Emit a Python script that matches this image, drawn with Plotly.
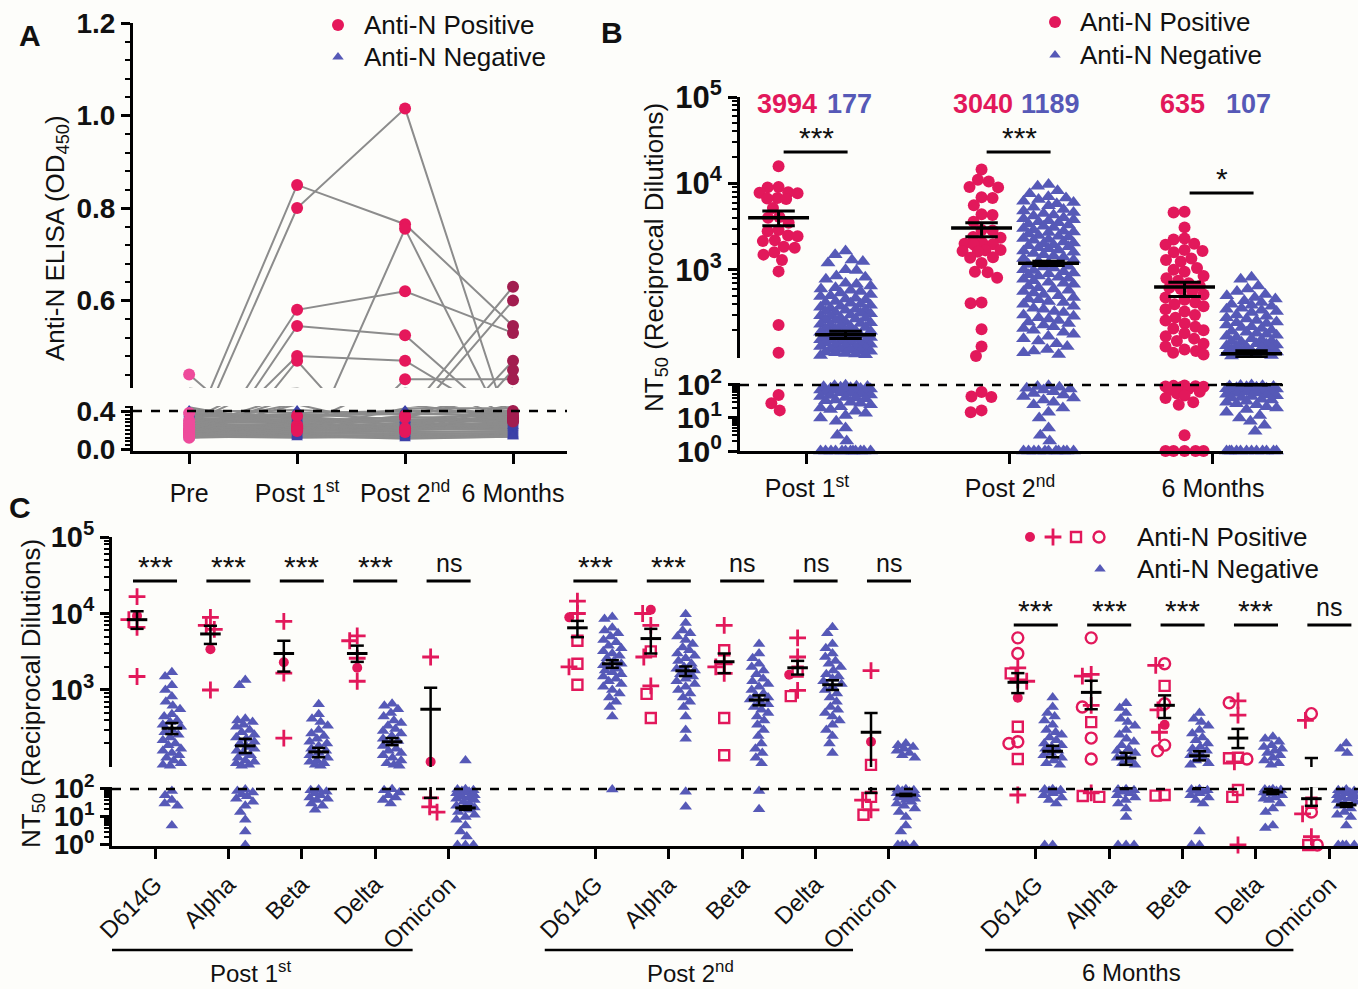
import math
import plotly.graph_objects as go

W, H = 1358, 989
FONT = "Liberation Sans, Arial, Helvetica, sans-serif"
BG = "#FDFDFA"
INK = "#111111"
RED = "#E2185B"
BLUE = "#5659B7"
GRAY = "#8C8C8C"
A_COLORS = ["#EE4B9B", "#E5175B", "#E5175B", "#A21D4F"]
A_TRI = "#3C41A8"

# ---------------- data: panel A (anti-N ELISA, OD450) ----------------
a_times = ["Pre", "Post 1<sup>st</sup>", "Post 2<sup>nd</sup>", "6 Months"]
a_pos_pre = [0.30, 0.27, 0.22, 0.20, 0.25, 0.18, 0.15, 0.44, 0.20, 0.16, 0.18, 0.14, 0.38, 0.12]
a_pos_post1 = [0.85, 0.80, 0.58, 0.545, 0.48, 0.47, 0.23, 0.24, 0.22, 0.20, 0.25, 0.21, 0.35, 0.19]
a_pos_post2 = [0.765, 1.015, 0.62, 0.525, 0.47, 0.21, 0.755, 0.35, 0.33, 0.43, 0.22, 0.19, 0.18, 0.20]
a_pos_6m = [0.545, 0.30, 0.53, 0.32, 0.33, 0.35, 0.29, 0.63, 0.60, 0.43, 0.47, 0.45, 0.40, 0.38]
a_neg_pre = [0.41, 0.39, 0.37, 0.36, 0.35, 0.34, 0.33, 0.32, 0.31, 0.30, 0.29, 0.28, 0.27, 0.26, 0.25,
             0.24, 0.23, 0.22, 0.21, 0.20, 0.19, 0.18, 0.17, 0.16, 0.15, 0.14, 0.13, 0.12, 0.38, 0.26]
a_neg_post1 = [0.38, 0.41, 0.33, 0.30, 0.37, 0.36, 0.29, 0.34, 0.28, 0.32, 0.27, 0.31, 0.25, 0.24, 0.26,
               0.22, 0.21, 0.23, 0.19, 0.20, 0.17, 0.18, 0.16, 0.15, 0.14, 0.13, 0.12, 0.14, 0.35, 0.22]
a_neg_post2 = [0.40, 0.36, 0.41, 0.33, 0.31, 0.38, 0.30, 0.28, 0.34, 0.29, 0.30, 0.26, 0.27, 0.25, 0.23,
               0.24, 0.20, 0.21, 0.22, 0.18, 0.19, 0.16, 0.17, 0.14, 0.15, 0.12, 0.13, 0.11, 0.37, 0.25]
a_neg_6m = [0.39, 0.41, 0.37, 0.35, 0.33, 0.34, 0.32, 0.31, 0.29, 0.30, 0.28, 0.27, 0.26, 0.25, 0.24,
            0.22, 0.23, 0.21, 0.20, 0.19, 0.18, 0.17, 0.16, 0.15, 0.14, 0.13, 0.14, 0.13, 0.36, 0.24]
a_cutoff = 0.4

# ---------------- data: panel B (NT50, zeros shown at 1) ----------------
b_times = ["Post 1<sup>st</sup>", "Post 2<sup>nd</sup>", "6 Months"]
b_pos_post1 = [15800, 9100, 9000, 7900, 7800, 7700, 6800, 6700, 6600, 5200, 4100, 4000, 3500, 2900, 2800,
               2500, 2450, 2200, 2150, 1850, 1800, 1600, 1500, 1300, 960, 230, 110, 50, 28, 17]
b_neg_post1 = [1650, 1500, 1250, 1300, 1200, 1000, 980, 850, 820, 780, 700, 680, 650, 620, 600, 580, 560,
               540, 520, 500, 490, 470, 460, 450, 430, 420, 410, 400, 390, 380, 370, 360, 350, 345, 340,
               330, 320, 315, 310, 300, 295, 290, 280, 275, 270, 265, 260, 250, 245, 240, 235, 230, 225,
               220, 215, 210, 205, 200, 198, 195, 190, 185, 180, 178, 175, 170, 168, 165, 160, 158, 155,
               152, 150, 148, 145, 142, 140, 138, 135, 132, 130, 128, 125, 122, 120, 118, 116, 114, 112,
               110, 108, 106, 104, 102,
               98, 95, 92, 90, 88, 85, 82, 80, 78, 75, 72, 70, 68, 65, 62, 60, 58, 55, 52, 50, 48, 45, 42,
               40, 38, 35, 33, 30, 28, 25, 22, 20, 18, 16, 14, 12, 10, 8, 5, 3, 2,
               1, 1, 1, 1, 1, 1, 1, 1, 1, 1, 1, 1]
b_pos_post2 = [14500, 11000, 10500, 9100, 9000, 6900, 6800, 5600, 4400, 4300, 3600, 2900, 2850, 2400, 2350,
               2050, 2000, 1980, 1950, 1700, 1680, 1650, 1620, 1400, 1380, 1200, 950, 940, 810, 420, 410,
               205, 130, 101, 61, 45, 43, 17, 15]
b_neg_post2 = [9700, 9300, 8200, 7600, 7000, 6800, 6500, 6200, 6000, 5800, 5500, 5300, 5000, 4800, 4600,
               4500, 4300, 4200, 4000, 3900, 3800, 3700, 3600, 3500, 3400, 3300, 3200, 3100, 3000, 2900,
               2800, 2750, 2700, 2600, 2500, 2450, 2400, 2300, 2250, 2200, 2100, 2050, 2000, 1950, 1900,
               1850, 1800, 1750, 1700, 1650, 1600, 1550, 1500, 1450, 1400, 1350, 1300, 1250, 1200, 1180,
               1150, 1100, 1080, 1050, 1000, 980, 950, 920, 900, 880, 850, 820, 800, 780, 750, 720, 700,
               680, 650, 620, 600, 580, 560, 540, 520, 500, 480, 460, 450, 430, 420, 400, 380, 360, 350,
               330, 320, 300, 290, 280, 270, 260, 250, 240, 230, 220, 210, 200, 190, 180, 170, 160, 150,
               140, 130, 120, 115, 110, 105,
               95, 90, 85, 80, 75, 70, 62, 55, 50, 45, 40, 35, 30, 25, 20, 15, 10, 5, 3, 2,
               1, 1, 1, 1, 1, 1, 1, 1, 1, 1, 1]
b_pos_6m = [4700, 4600, 3100, 2300, 2250, 2000, 1950, 1700, 1650, 1600, 1350, 1300, 1250, 1050, 1000, 950,
            850, 800, 750, 700, 650, 620, 600, 560, 520, 480, 450, 420, 400, 380, 350, 330, 300, 280, 260,
            240, 220, 210, 200, 185, 170, 160, 150, 140, 130, 120, 115, 110, 105,
            96, 94, 92, 90, 88, 85, 75, 70, 62, 55, 48, 40, 30, 25, 3, 1, 1, 1, 1, 1]
b_neg_6m = [820, 780, 650, 600, 560, 520, 500, 480, 460, 440, 420, 400, 390, 380, 360, 350, 340, 330, 320,
            300, 290, 280, 270, 260, 250, 245, 240, 230, 220, 215, 210, 200, 195, 190, 185, 180, 175, 170,
            165, 160, 155, 150, 148, 145, 140, 138, 135, 132, 130, 128, 125, 122, 120, 118, 116, 114, 112,
            110, 108, 106, 104, 102, 101,
            99, 97, 95, 93, 90, 88, 85, 82, 80, 77, 75, 72, 70, 67, 65, 62, 60, 57, 55, 52, 50, 47, 45, 42,
            40, 37, 35, 32, 30, 27, 25, 22, 20, 18, 15, 12, 10, 8, 6, 4,
            1, 1, 1, 1, 1, 1, 1, 1, 1, 1, 1, 1]
b_pos_mean = [3994, 3040, 635]
b_pos_hi = [4800, 3500, 720]
b_pos_lo = [3240, 2420, 490]
b_neg_mean = [177, 1189, 107]
b_neg_hi = [195, 1260, 116]
b_neg_lo = [161, 1120, 99]
b_sig = ["***", "***", "*"]
lod = 100

# ---------------- data: panel C (NT50 per variant) ----------------
c_times = ["Post 1<sup>st</sup>", "Post 2<sup>nd</sup>", "6 Months"]
c_variants = ["D614G", "Alpha", "Beta", "Delta", "Omicron"]
c_neg = [
    [1700, 1500, 1150, 1000, 820, 700, 620, 560, 480, 450, 400, 380, 350, 330, 300, 280, 260, 240, 220, 200,
     190, 170, 160, 150, 140, 130, 120, 110, 105, 102, 85, 60, 40, 30, 25, 5],
    [1350, 1150, 420, 400, 380, 350, 330, 300, 280, 260, 240, 230, 210, 200, 180, 170, 160, 150, 140, 130,
     120, 115, 110, 105, 102, 95, 85, 75, 65, 55, 45, 35, 25, 15, 8, 3, 1],
    [650, 480, 420, 380, 340, 300, 270, 250, 230, 210, 200, 185, 170, 160, 150, 140, 130, 120, 115, 110,
     105, 102, 95, 90, 80, 70, 60, 50, 45, 40, 30, 25, 18],
    [660, 620, 560, 500, 450, 400, 370, 340, 310, 290, 270, 250, 230, 215, 200, 185, 170, 160, 150, 140,
     130, 120, 110, 105, 102, 98, 90, 75, 60, 50, 40, 30],
    [120, 98, 95, 90, 85, 80, 75, 70, 60, 55, 50, 45, 40, 35, 30, 25, 22, 20, 18, 15, 12, 10, 8, 5, 3, 2,
     1, 1, 1],
    [9000, 8500, 6500, 6000, 5500, 5000, 4500, 4200, 3800, 3500, 3200, 3000, 2800, 2600, 2400, 2200, 2100,
     2000, 1900, 1800, 1700, 1600, 1500, 1400, 1300, 1200, 1100, 1000, 900, 800, 700, 600, 450, 95],
    [9800, 7500, 6000, 5500, 5000, 4500, 4000, 3600, 3300, 3000, 2800, 2600, 2400, 2200, 2000, 1900, 1800,
     1700, 1600, 1500, 1400, 1300, 1200, 1100, 1000, 900, 800, 700, 600, 450, 300, 230, 80, 23],
    [4000, 3000, 2600, 2200, 2000, 1800, 1600, 1400, 1300, 1200, 1100, 1000, 900, 850, 800, 750, 700, 650,
     600, 550, 500, 450, 400, 350, 300, 250, 200, 170, 150, 130, 110, 85, 19],
    [6600, 5500, 4000, 3500, 3000, 2700, 2400, 2200, 2000, 1800, 1600, 1500, 1400, 1300, 1200, 1100, 1000,
     900, 800, 700, 600, 550, 500, 450, 400, 350, 300, 250, 200, 150],
    [200, 190, 180, 170, 160, 150, 140, 130, 98, 95, 90, 85, 80, 75, 70, 65, 60, 55, 50, 45, 40, 35, 30, 25,
     20, 15, 10, 5, 3, 1, 1, 1, 1],
    [800, 600, 500, 450, 400, 350, 300, 280, 260, 240, 220, 200, 190, 180, 170, 160, 150, 140, 130, 120, 110,
     105, 98, 95, 90, 85, 80, 70, 60, 50, 40, 30, 1, 1],
    [670, 580, 500, 420, 380, 340, 300, 260, 230, 210, 190, 170, 160, 150, 140, 130, 120, 110, 105, 98, 95,
     90, 80, 70, 60, 50, 40, 30, 20, 10, 1, 1, 1],
    [500, 420, 380, 340, 300, 270, 240, 220, 200, 180, 170, 160, 150, 140, 130, 120, 110, 105, 98, 95, 90,
     85, 80, 70, 60, 50, 40, 30, 3, 1, 1],
    [245, 230, 210, 190, 180, 170, 160, 150, 140, 130, 120, 110, 105, 98, 95, 92, 90, 85, 80, 75, 70, 60, 50,
     45, 40, 30, 20, 15, 5, 4],
    [200, 170, 150, 95, 90, 85, 80, 75, 70, 60, 55, 50, 45, 40, 35, 30, 25, 20, 15, 12, 10, 5, 1, 1, 1, 1],
]
c_pos_dot = [[9300], [3400], [2300], [1950], [115],
             [8900], [11200], [], [1580], [210],
             [790], [], [350], [], []]
c_pos_plus = [[16600, 8300, 6600, 1500], [8900, 7000, 6200, 1000], [7900, 1660, 235], [4400, 5100, 1300, 2600],
              [2700, 48, 23, 15],
              [14500, 10000, 2000], [10000, 7000, 2700, 1130], [7000, 2200, 1650, 2000], [4800, 2700, 990],
              [1790, 40, 18],
              [1950, 1300, 1350, 61], [1520, 1600, 630, 72], [2100, 550, 280], [720, 470, 115, 1], [400, 13, 2]]
c_pos_square = [[], [], [], [], [],
                [4400, 2200, 1170], [3200, 890, 430], [3300, 430, 140], [1740, 830], [105, 52, 12],
                [1650, 330, 125], [380, 52, 56], [1130, 61, 58], [130, 128, 92, 52], [32, 1]]
c_pos_ring = [[], [], [], [], [],
              [], [], [], [], [],
              [4800, 3000, 200, 210], [4800, 600, 235, 125], [2200, 660, 190, 160], [680, 125], [490, 15, 1]]
c_pos_mean = [8300, 5400, 3000, 3000, 560, 6500, 4700, 2340, 1950, 280, 1260, 930, 630, 235, 45]
c_pos_hi = [10700, 6900, 4400, 3800, 1070, 8000, 6300, 3000, 2400, 500, 1660, 1320, 850, 310, 129]
c_pos_lo = [6300, 4000, 1740, 2330, 48, 4900, 3000, 1660, 1590, 72, 910, 560, 430, 174, 25]
c_neg_mean = [316, 186, 155, 210, 21, 2200, 1780, 740, 1170, 61, 158, 129, 138, 78, 27]
c_neg_hi = [370, 230, 175, 235, 24, 2450, 2030, 850, 1340, 67, 186, 151, 158, 92, 31]
c_neg_lo = [265, 150, 132, 190, 18, 1950, 1520, 630, 1000, 56, 132, 105, 120, 66, 23]
c_sig = ["***", "***", "***", "***", "ns", "***", "***", "ns", "ns", "ns", "***", "***", "***", "***", "ns"]

# ---------------- geometry (page pixels) ----------------
A_X, A_XR = (133, 567), (-0.52, 3.5)
A_UP, A_UPR = (23, 388), (0.411, 1.2)
A_LO, A_LOR = (406, 451), (-0.02, 0.453)
B_X, B_XR = (740, 1283), (-0.33, 2.345)
B_UP, B_UPR = (97, 358), (1.98, 5)
B_LO, B_LOR = (383, 451), (0, 2.06)
C_X, C_XR = (112, 1358), (-0.586, 16.39)
C_UP, C_UPR = (537, 767), (1.993, 5)
C_LO, C_LOR = (787, 846), (-0.036, 2.07)


def dom_x(p):
    return [p[0] / W, p[1] / W]


def dom_y(p):
    return [1 - p[1] / H, 1 - p[0] / H]


def ppu(p, r):
    return (p[1] - p[0]) / (r[1] - r[0])


def swarm(vals, ppd, d, maxw):
    ys = [math.log10(v) * ppd for v in vals]
    order = sorted(range(len(vals)), key=lambda i: (-ys[i], i))
    placed, out = [], [0.0] * len(vals)
    for i in order:
        y = ys[i]
        near = [(px, py) for px, py in placed if abs(py - y) < d]
        cands = {0.0}
        for px, py in near:
            dx = math.sqrt(max(d * d - (py - y) ** 2, 0.0))
            cands.add(px + dx)
            cands.add(px - dx)
        best = None
        for c in sorted(cands, key=lambda c: (abs(c), c)):
            if abs(c) > maxw + 1e-9:
                continue
            if all((c - px) ** 2 + (y - py) ** 2 >= d * d - 1e-6 for px, py in near):
                best = c
                break
        if best is None:
            grid = [-maxw + 2 * maxw * k / 10 for k in range(11)]
            best = max(grid, key=lambda c: min((c - px) ** 2 + (y - py) ** 2 for px, py in near))
        placed.append((best, y))
        out[i] = best
    return out


def offsets(vals, up_ppd, lo_ppd, d, maxw):
    out = [0.0] * len(vals)
    for keep, ppd in ((lambda v: v >= lod, up_ppd), (lambda v: v < lod, lo_ppd)):
        idx = [i for i, v in enumerate(vals) if keep(v)]
        if idx:
            o = swarm([vals[i] for i in idx], ppd, d, maxw)
            for i, oo in zip(idx, o):
                out[i] = oo
    return out


fig = go.Figure()


def pts(x, y, xa, ya, marker):
    if x:
        fig.add_trace(go.Scatter(x=x, y=y, xaxis=xa, yaxis=ya, mode="markers", marker=marker,
                                 cliponaxis=False, hoverinfo="skip", showlegend=False))


def lines(x, y, xa, yas, color="black", width=2.5, dash=None):
    for ya in yas:
        fig.add_trace(go.Scatter(x=x, y=y, xaxis=xa, yaxis=ya, mode="lines",
                                 line=dict(color=color, width=width, dash=dash),
                                 hoverinfo="skip", showlegend=False))


def sem_traces(xcs, means, his, los, mw, cw, xa, yas, mwidth, ewidth):
    ex, ey, mx, my = [], [], [], []
    for xc, m, h, l in zip(xcs, means, his, los):
        ex += [xc, xc, None, xc - cw, xc + cw, None, xc - cw, xc + cw, None]
        ey += [l, h, None, h, h, None, l, l, None]
        mx += [xc - mw, xc + mw, None]
        my += [m, m, None]
    lines(ex, ey, xa, yas, width=ewidth)
    lines(mx, my, xa, yas, width=mwidth)


# ---------------- panel A ----------------
a_pos = [a_pos_pre, a_pos_post1, a_pos_post2, a_pos_6m]
a_neg = [a_neg_pre, a_neg_post1, a_neg_post2, a_neg_6m]
lx, ly = [], []
for series in (a_neg, a_pos):
    for i in range(len(series[0])):
        for t in range(4):
            lx.append(t)
            ly.append(series[t][i])
        lx.append(None)
        ly.append(None)
lines(lx, ly, "x", ["y", "y2"], color=GRAY, width=2)
for t in range(4):
    for keep, ya in ((lambda v: v > A_UPR[0], "y"), (lambda v: v <= A_UPR[0], "y2")):
        tv = [v for v in a_neg[t] if keep(v)]
        pts([t] * len(tv), tv, "x", ya, dict(symbol="triangle-up", size=10, color=A_TRI))
for t in range(4):
    for keep, ya in ((lambda v: v > A_UPR[0], "y"), (lambda v: v <= A_UPR[0], "y2")):
        cv = [v for v in a_pos[t] if keep(v)]
        pts([t] * len(cv), cv, "x", ya, dict(symbol="circle", size=12, color=A_COLORS[t]))
lines([A_XR[0], A_XR[1]], [a_cutoff, a_cutoff], "x", ["y2"], width=2.5, dash="dash")

# ---------------- panel B ----------------
B_POS_OFF, B_NEG_OFF = -0.14, 0.19
bx = ppu(B_X, B_XR)
b_up = ppu(B_UP, B_UPR)
b_lo = ppu(B_LO, B_LOR)
b_pos = [b_pos_post1, b_pos_post2, b_pos_6m]
b_neg = [b_neg_post1, b_neg_post2, b_neg_6m]
for t in range(3):
    for vals, off, marker, d, mw in (
            (b_neg[t], B_NEG_OFF, dict(symbol="triangle-up", size=13, color=BLUE), 11, 25),
            (b_pos[t], B_POS_OFF, dict(symbol="circle", size=12, color=RED), 11, 19)):
        o = offsets(vals, b_up, b_lo, d, mw)
        for keep, ya in ((lambda v: v >= lod, "y3"), (lambda v: v < lod, "y4")):
            xs = [t + off + oo / bx for v, oo in zip(vals, o) if keep(v)]
            ys = [v for v in vals if keep(v)]
            pts(xs, ys, "x2", ya, marker)
sem_traces([t + B_POS_OFF for t in range(3)], b_pos_mean, b_pos_hi, b_pos_lo, 0.15, 0.08, "x2", ["y3", "y4"], 3.5, 3)
sem_traces([t + B_NEG_OFF for t in range(3)], b_neg_mean, b_neg_hi, b_neg_lo, 0.15, 0.08, "x2", ["y3", "y4"], 3.5, 3)
lines([B_XR[0], B_XR[1]], [lod, lod], "x2", ["y4"], width=2.5, dash="dash")

# ---------------- panel C ----------------
C_POS_OFF, C_NEG_OFF = -0.245, 0.23
cx = ppu(C_X, C_XR)
c_up = ppu(C_UP, C_UPR)
c_lo = ppu(C_LO, C_LOR)
c_pos_k = [6 * g + v for g in range(3) for v in range(5)]
sym_styles = {
    "dot": dict(symbol="circle", size=10, color=RED),
    "plus": dict(symbol="cross-thin", size=12, color=RED, line=dict(color=RED, width=2.8)),
    "square": dict(symbol="square-open", size=10, color=RED, line=dict(color=RED, width=2.4)),
    "ring": dict(symbol="circle-open", size=11, color=RED, line=dict(color=RED, width=2.4)),
}
acc = {}
for j, k in enumerate(c_pos_k):
    vals = c_neg[j]
    o = offsets(vals, c_up, c_lo, 8, 9)
    for v, oo in zip(vals, o):
        key = ("tri", "y5" if v >= lod else "y6")
        acc.setdefault(key, ([], []))
        acc[key][0].append(k + C_NEG_OFF + oo / cx)
        acc[key][1].append(v)
for j, k in enumerate(c_pos_k):
    items = ([(v, "dot") for v in c_pos_dot[j]] + [(v, "plus") for v in c_pos_plus[j]] +
             [(v, "square") for v in c_pos_square[j]] + [(v, "ring") for v in c_pos_ring[j]])
    vals = [v for v, s in items]
    o = offsets(vals, c_up, c_lo, 9, 9)
    for (v, s), oo in zip(items, o):
        key = (s, "y5" if v >= lod else "y6")
        acc.setdefault(key, ([], []))
        acc[key][0].append(k + C_POS_OFF + oo / cx)
        acc[key][1].append(v)
for (s, ya), (xs, ys) in acc.items():
    if s == "tri":
        pts(xs, ys, "x3", ya, dict(symbol="triangle-up", size=11, color=BLUE))
for (s, ya), (xs, ys) in acc.items():
    if s != "tri":
        pts(xs, ys, "x3", ya, sym_styles[s])
sem_traces([k + C_POS_OFF for k in c_pos_k], c_pos_mean, c_pos_hi, c_pos_lo, 0.14, 0.09, "x3", ["y5", "y6"], 3, 2.5)
sem_traces([k + C_NEG_OFF for k in c_pos_k], c_neg_mean, c_neg_hi, c_neg_lo, 0.14, 0.09, "x3", ["y5", "y6"], 3, 2.5)
lines([C_XR[0], C_XR[1]], [lod, lod], "x3", ["y6"], width=2.5, dash="dash")

# ---------------- legend glyphs (overlay in page pixels) ----------------
pts([338], [25], "x4", "y7", dict(symbol="circle", size=12, color=A_COLORS[1]))
pts([338], [57], "x4", "y7", dict(symbol="triangle-up", size=10, color=BLUE))
pts([1055], [22], "x4", "y7", dict(symbol="circle", size=12, color=RED))
pts([1055], [55], "x4", "y7", dict(symbol="triangle-up", size=10, color=BLUE))
pts([1030], [537], "x4", "y7", sym_styles["dot"])
pts([1053], [537], "x4", "y7", sym_styles["plus"])
pts([1076], [537], "x4", "y7", sym_styles["square"])
pts([1099], [537], "x4", "y7", sym_styles["ring"])
pts([1100], [569], "x4", "y7", dict(symbol="triangle-up", size=10, color=BLUE))


# ---------------- axes ----------------
def yax(p, r, anchor, tv, tt, size, log=False, minor_vals=None, minor_dtick=None):
    d = dict(domain=dom_y(p), range=list(r), anchor=anchor, showline=True, linecolor="black", linewidth=3,
             ticks="outside", ticklen=9, tickwidth=3, tickcolor="black", showgrid=False, zeroline=False,
             tickmode="array", tickvals=tv, ticktext=["<b>%s</b>" % s for s in tt], automargin=False,
             tickfont=dict(family=FONT, size=size, color=INK), fixedrange=True)
    if log:
        d["type"] = "log"
    mn = dict(ticks="outside", ticklen=5, tickwidth=2, tickcolor="black", showgrid=False)
    if minor_vals is not None:
        mn.update(tickmode="array", tickvals=minor_vals)
    if minor_dtick is not None:
        mn.update(dtick=minor_dtick, tick0=0)
    d["minor"] = mn
    return d


def xax(p, r, anchor, tv, tt, size, angle=0, standoff=0):
    return dict(domain=dom_x(p), range=list(r), anchor=anchor, showline=True, linecolor="black", linewidth=3,
                ticks="outside", ticklen=10, tickwidth=3, tickcolor="black", showgrid=False, zeroline=False,
                tickmode="array", tickvals=tv, ticktext=tt, tickangle=angle, ticklabelstandoff=standoff,
                automargin=False, tickfont=dict(family=FONT, size=size, color=INK), fixedrange=True)


minor_up = [k * 10 ** e for e in (2, 3, 4) for k in range(2, 10)]
minor_lo = [k * 10 ** e for e in (0, 1) for k in range(2, 10)]
sup = lambda e: "10<sup>%d</sup>" % e
c_ticks = [6 * g + v for g in range(3) for v in range(5)]
c_ticktext = [v for g in range(3) for v in c_variants]

fig.update_layout(
    width=W, height=H, margin=dict(l=0, r=0, t=0, b=0, pad=0, autoexpand=False), autosize=False,
    paper_bgcolor=BG, plot_bgcolor="rgba(0,0,0,0)", showlegend=False,
    font=dict(family=FONT, color=INK),
    xaxis=xax(A_X, A_XR, "y2", [0, 1, 2, 3], a_times, 25, standoff=8),
    yaxis=yax(A_UP, A_UPR, "x", [0.6, 0.8, 1.0, 1.2], ["0.6", "0.8", "1.0", "1.2"], 28, minor_dtick=0.04),
    yaxis2=yax(A_LO, A_LOR, "x", [0.0, 0.4], ["0.0", "0.4"], 28, minor_dtick=0.04),
    xaxis2=xax(B_X, B_XR, "y4", [0, 1, 2], b_times, 25, standoff=3),
    yaxis3=yax(B_UP, B_UPR, "x2", [1e3, 1e4, 1e5], [sup(3), sup(4), sup(5)], 31, log=True, minor_vals=minor_up),
    yaxis4=yax(B_LO, B_LOR, "x2", [1, 10, 100], [sup(0), sup(1), sup(2)], 30, log=True, minor_vals=minor_lo),
    xaxis3=xax(C_X, C_XR, "y6", c_ticks, c_ticktext, 24, angle=-45, standoff=2),
    yaxis5=yax(C_UP, C_UPR, "x3", [1e3, 1e4, 1e5], [sup(3), sup(4), sup(5)], 29, log=True, minor_vals=minor_up),
    yaxis6=yax(C_LO, C_LOR, "x3", [1, 10, 100], [sup(0), sup(1), sup(2)], 27, log=True, minor_vals=minor_lo),
    xaxis4=dict(domain=[0, 1], range=[0, W], anchor="y7", visible=False, fixedrange=True, automargin=False),
    yaxis7=dict(domain=[0, 1], range=[H, 0], anchor="x4", visible=False, fixedrange=True, automargin=False),
)


# ---------------- annotations ----------------
def note(text, px, py, size=24, color=INK, xanchor="center", yanchor="middle", angle=0, xref="paper", x=None):
    fig.add_annotation(text=text, x=(px / W if x is None else x), y=1 - py / H, xref=xref, yref="paper",
                       showarrow=False, font=dict(family=FONT, size=size, color=color),
                       xanchor=xanchor, yanchor=yanchor, textangle=angle)


def hbar(xref, x0, x1, py, width=3):
    fig.add_shape(type="line", xref=xref, yref="paper", x0=x0, x1=x1, y0=1 - py / H, y1=1 - py / H,
                  line=dict(color="black", width=width))


note("<b>A</b>", 30, 35, size=30)
note("<b>B</b>", 612, 32, size=30)
note("<b>C</b>", 20, 508, size=30)
note("Anti-N ELISA (OD<sub>450</sub>)", 56, 238, angle=-90, size=26)
note("NT<sub>50</sub> (Reciprocal Dilutions)", 655, 258, angle=-90, size=26)
note("NT<sub>50</sub> (Reciprocal Dilutions)", 32, 694, angle=-90, size=26)

for px, py, txt in ((362, 25, "Anti-N Positive"), (362, 57, "Anti-N Negative"),
                    (1078, 22, "Anti-N Positive"), (1078, 55, "Anti-N Negative"),
                    (1135, 537, "Anti-N Positive"), (1135, 569, "Anti-N Negative")):
    note(txt, px, py, size=26, xanchor="left")

# panel B: group means and significance
b_lab_pos = [-0.10, -0.135, -0.15]
b_lab_neg = [0.21, 0.20, 0.175]
for t in range(3):
    note("<b>%d</b>" % b_pos_mean[t], 0, 104, size=27, color=RED, xref="x2", x=t + b_lab_pos[t])
    note("<b>%d</b>" % b_neg_mean[t], 0, 104, size=27, color=BLUE, xref="x2", x=t + b_lab_neg[t])
b_sig_px = [152, 152, 193]
for t in range(3):
    hbar("x2", t + B_POS_OFF + 0.025, t + B_NEG_OFF + 0.01, b_sig_px[t])
    note(b_sig[t], 0, b_sig_px[t] + 4, size=30, xref="x2", x=t + (B_POS_OFF + B_NEG_OFF) / 2 + 0.02,
         yanchor="bottom")

# panel C: significance bars, group brackets
for j, k in enumerate(c_pos_k):
    py = 581 if k < 12 else 625
    hbar("x3", k - 0.3, k + 0.3, py)
    if c_sig[j] == "ns":
        note(c_sig[j], 0, py - 2, size=25, xref="x3", x=k, yanchor="bottom")
    else:
        note(c_sig[j], 0, py + 4, size=30, xref="x3", x=k, yanchor="bottom")
for g in range(3):
    hbar("x3", 6 * g - 0.69, 6 * g + 3.51, 950, width=2.5)
    note(c_times[g], 0, 972, size=24, xref="x3", x=6 * g + 1.3)

fig.write_html("out.html", config={"displayModeBar": False},
               post_script="document.body.style.margin='0';document.body.style.overflow='hidden';")
